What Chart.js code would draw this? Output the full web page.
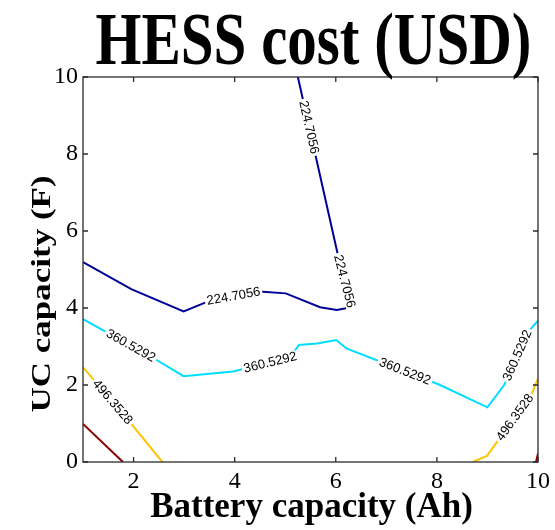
<!DOCTYPE html>
<html><head><meta charset="utf-8">
<script src="https://cdn.jsdelivr.net/npm/chart.js@4/dist/chart.umd.min.js"></script>
<style>html,body{margin:0;padding:0;background:#fff}canvas{display:block}</style>
</head><body>
<canvas id="c" width="555" height="530"></canvas>
<script>
const titleText = 'HESS cost (USD)';
const xTitle = 'Battery capacity (Ah)';
const yTitle = 'UC capacity (F)';
const xTicks = [2, 4, 6, 8, 10];
const yTicks = [0, 2, 4, 6, 8, 10];
const levelValues = [224.7056, 360.5292, 496.3528, 632.1764];
const levelColors = ['#000096', '#00DDFF', '#FFC400', '#8B0000'];

// contour level 224.7056
const blueX = [1, 1.955, 2.99, 3.55, 4.49, 5.01, 5.69, 6.02, 6.31, 6.05, 5.59, 5.25];
const blueY = [5.19, 4.49, 3.91, 4.21, 4.43, 4.38, 4.02, 3.95, 4.02, 5.33, 8.02, 10];
// contour level 360.5292
const cyanX = [1, 2.34, 2.99, 3.97, 5.1, 5.27, 5.63, 6.01, 6.21, 8.03, 9.0, 9.33, 9.78, 10];
const cyanY = [3.71, 2.74, 2.23, 2.35, 2.72, 3.04, 3.08, 3.17, 2.95, 2.02, 1.42, 2.0, 3.34, 3.67];
// contour level 496.3528
const orangeLX = [1, 1.92, 2.57];
const orangeLY = [2.46, 1.05, 0];
const orangeRX = [8.71, 8.99, 9.88, 10];
const orangeRY = [0, 0.16, 1.78, 2.17];
// contour level 632.1764
const redLX = [1, 1.79];
const redLY = [0.99, 0];
const redRX = [9.96, 10];
const redRY = [0, 0.22];

// inline contour labels (anchor in data units, level index)
const labelLevel = [0, 0, 0, 1, 1, 1, 1, 2, 2];
const labelX = [5.43, 6.13, 3.97, 1.94, 4.71, 7.34, 9.58, 1.59, 9.56];
const labelY = [8.68, 4.68, 4.36, 3.01, 2.55, 2.26, 2.78, 1.56, 1.14];

const segments = [
  {level: 0, xs: blueX, ys: blueY},
  {level: 1, xs: cyanX, ys: cyanY},
  {level: 2, xs: orangeLX, ys: orangeLY},
  {level: 2, xs: orangeRX, ys: orangeRY},
  {level: 3, xs: redLX, ys: redLY},
  {level: 3, xs: redRX, ys: redRY}
];

const datasets = segments.map(s => ({
  label: String(levelValues[s.level]),
  data: s.xs.map((x, i) => ({x: x, y: s.ys[i]})),
  borderColor: levelColors[s.level],
  borderWidth: 2,
  pointRadius: 0,
  showLine: true,
  fill: false,
  tension: 0
}));

const serif = '"Liberation Serif", "Times New Roman", serif';

const contourLabels = {
  id: 'contourLabels',
  afterDatasetsDraw(chart) {
    const ctx = chart.ctx, xs = chart.scales.x, ys = chart.scales.y;
    labelX.forEach((lx, i) => {
      const lev = labelLevel[i];
      const px = xs.getPixelForValue(lx), py = ys.getPixelForValue(labelY[i]);
      let best = null;
      segments.filter(s => s.level === lev).forEach(s => {
        for (let k = 0; k < s.xs.length - 1; k++) {
          const ax = xs.getPixelForValue(s.xs[k]), ay = ys.getPixelForValue(s.ys[k]);
          const bx = xs.getPixelForValue(s.xs[k + 1]), by = ys.getPixelForValue(s.ys[k + 1]);
          const dx = bx - ax, dy = by - ay, L2 = dx * dx + dy * dy;
          let t = ((px - ax) * dx + (py - ay) * dy) / L2;
          t = Math.max(0, Math.min(1, t));
          const qx = ax + t * dx, qy = ay + t * dy;
          const d = (qx - px) * (qx - px) + (qy - py) * (qy - py);
          if (!best || d < best.d) best = {d, qx, qy, ang: Math.atan2(dy, dx)};
        }
      });
      let a = best.ang;
      if (a > Math.PI / 2) a -= Math.PI;
      if (a <= -Math.PI / 2) a += Math.PI;
      const txt = levelValues[lev].toFixed(4);
      ctx.save();
      ctx.translate(best.qx, best.qy);
      ctx.rotate(a);
      ctx.font = '13px "Liberation Sans", Arial, sans-serif';
      const w = ctx.measureText(txt).width;
      ctx.fillStyle = '#fff';
      ctx.fillRect(-w / 2 - 2, -5.5, w + 4, 11);
      ctx.fillStyle = '#000';
      ctx.textAlign = 'center';
      ctx.textBaseline = 'middle';
      ctx.fillText(txt, 0, 0.5);
      ctx.restore();
    });
  }
};

const frameAndTitles = {
  id: 'frameAndTitles',
  afterDraw(chart) {
    const ctx = chart.ctx, xs = chart.scales.x, ys = chart.scales.y;
    const {left, right, top, bottom} = chart.chartArea;
    ctx.save();
    ctx.strokeStyle = '#2b2b2b';
    ctx.lineWidth = 1.3;
    ctx.strokeRect(left, top, right - left, bottom - top);
    ctx.beginPath();
    xTicks.forEach(v => {
      const p = xs.getPixelForValue(v);
      ctx.moveTo(p, bottom); ctx.lineTo(p, bottom - 5);
      ctx.moveTo(p, top); ctx.lineTo(p, top + 5);
    });
    yTicks.forEach(v => {
      const p = ys.getPixelForValue(v);
      ctx.moveTo(left, p); ctx.lineTo(left + 5, p);
      ctx.moveTo(right, p); ctx.lineTo(right - 5, p);
    });
    ctx.stroke();
    ctx.fillStyle = '#000';
    ctx.textAlign = 'center';
    ctx.textBaseline = 'alphabetic';
    // title
    ctx.save();
    ctx.translate((left + right) / 2 + 3, 63.5);
    ctx.scale(1, 1.27);
    ctx.font = 'bold 59px ' + serif;
    ctx.fillText(titleText, 0, 0);
    ctx.restore();
    // x title
    ctx.font = 'bold 35px ' + serif;
    ctx.fillText(xTitle, 311.5, 517);
    // y title
    ctx.save();
    ctx.translate(50, 294);
    ctx.rotate(-Math.PI / 2);
    ctx.scale(1, 0.78);
    ctx.font = 'bold 35px ' + serif;
    ctx.fillText(yTitle, 0, 0);
    ctx.restore();
    ctx.restore();
  }
};

new Chart(document.getElementById('c'), {
  type: 'scatter',
  data: {datasets},
  options: {
    responsive: false,
    animation: false,
    devicePixelRatio: 1,
    layout: {padding: {top: 77, right: 10, left: 0, bottom: 0}},
    plugins: {legend: {display: false}, tooltip: {enabled: false}, title: {display: false}},
    scales: {
      x: {
        type: 'linear', min: 1, max: 10,
        afterBuildTicks: s => { s.ticks = xTicks.map(v => ({value: v})); },
        afterFit: s => { s.height = 68; },
        grid: {display: false, drawTicks: false},
        border: {display: false},
        ticks: {font: {family: serif, size: 24}, color: '#000', padding: 5, maxRotation: 0, autoSkip: false}
      },
      y: {
        type: 'linear', min: 0, max: 10,
        afterBuildTicks: s => { s.ticks = yTicks.map(v => ({value: v})); },
        afterFit: s => { s.width = 83; },
        grid: {display: false, drawTicks: false},
        border: {display: false},
        ticks: {font: {family: serif, size: 24}, color: '#000', padding: 5, autoSkip: false}
      }
    }
  },
  plugins: [contourLabels, frameAndTitles]
});
</script>
</body></html>
